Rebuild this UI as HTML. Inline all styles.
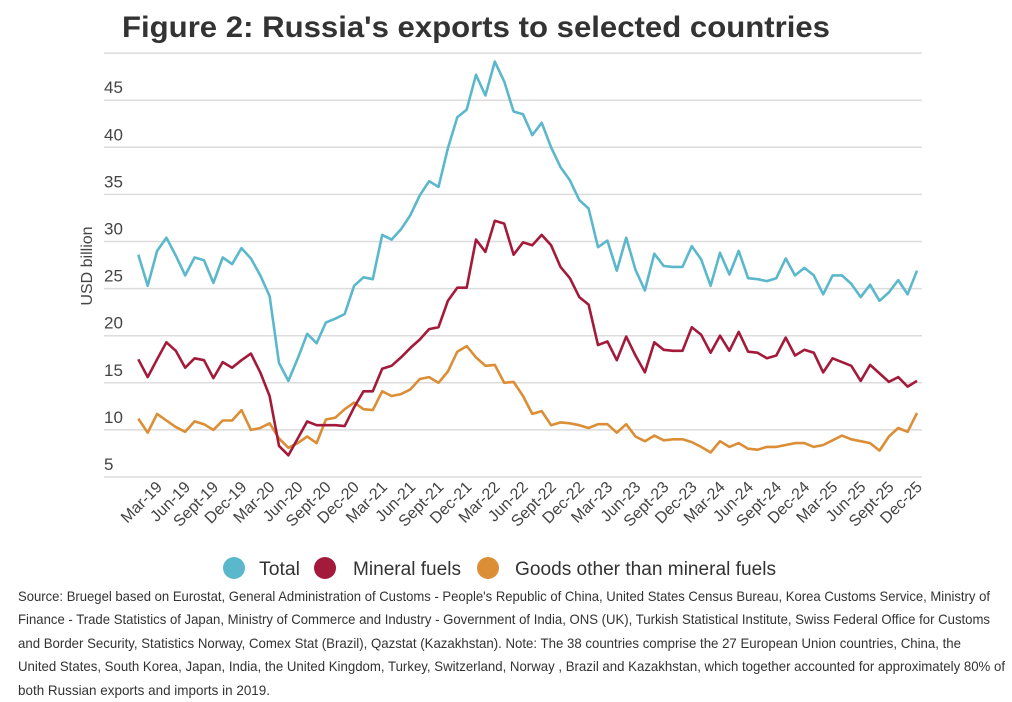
<!DOCTYPE html>
<html><head><meta charset="utf-8"><style>
html,body{margin:0;padding:0;background:#fff;}
svg{display:block;font-family:"Liberation Sans",sans-serif;}
</style></head><body>
<svg id="chart" width="1012" height="702" viewBox="0 0 1012 702" xmlns="http://www.w3.org/2000/svg">
<text x="122" y="37" font-size="30" font-weight="bold" fill="#333" textLength="708" lengthAdjust="spacingAndGlyphs">Figure 2: Russia's exports to selected countries</text>
<g id="grid"></g><g id="yticks"></g><g id="xticks"></g><g id="lines"></g>
<text transform="translate(92,266) rotate(-90)" text-anchor="middle" font-size="16" fill="#444">USD billion</text>
<g>
<g><circle cx="234" cy="568" r="11" fill="#5bb8cc"/><text x="259" y="575" font-size="19" fill="#333" textLength="41" lengthAdjust="spacingAndGlyphs">Total</text></g>
<g><circle cx="325" cy="568" r="11" fill="#a31a3b"/><text x="353" y="575" font-size="19" fill="#333" textLength="108" lengthAdjust="spacingAndGlyphs">Mineral fuels</text></g>
<g><circle cx="488" cy="568" r="11" fill="#db8e35"/><text x="515" y="575" font-size="19" fill="#333" textLength="261" lengthAdjust="spacingAndGlyphs">Goods other than mineral fuels</text></g>
</g>
<g font-size="14" fill="#333">
<text x="18" y="601" textLength="972" lengthAdjust="spacingAndGlyphs">Source: Bruegel based on Eurostat, General Administration of Customs - People's Republic of China, United States Census Bureau, Korea Customs Service, Ministry of</text>
<text x="18" y="624" textLength="972" lengthAdjust="spacingAndGlyphs">Finance - Trade Statistics of Japan, Ministry of Commerce and Industry - Government of India, ONS (UK), Turkish Statistical Institute, Swiss Federal Office for Customs</text>
<text x="18" y="648" textLength="943" lengthAdjust="spacingAndGlyphs">and Border Security, Statistics Norway, Comex Stat (Brazil), Qazstat (Kazakhstan). Note: The 38 countries comprise the 27 European Union countries, China, the</text>
<text x="18" y="671" textLength="987" lengthAdjust="spacingAndGlyphs">United States, South Korea, Japan, India, the United Kingdom, Turkey, Switzerland, Norway , Brazil and Kazakhstan, which together accounted for approximately 80% of</text>
<text x="18" y="695" textLength="252" lengthAdjust="spacingAndGlyphs">both Russian exports and imports in 2019.</text>
</g>
</svg>
<script>
const months = ["Jan","Feb","Mar","Apr","May","Jun","Jul","Aug","Sept","Oct","Nov","Dec"];
const yTicks = [5,10,15,20,25,30,35,40,45];
const total = [28.6,25.3,29.0,30.4,28.5,26.4,28.3,28.0,25.6,28.3,27.6,29.3,28.2,26.4,24.2,17.1,15.2,17.6,20.2,19.2,21.4,21.8,22.3,25.3,26.2,26.0,30.7,30.2,31.3,32.8,34.9,36.4,35.8,39.9,43.2,44.0,47.7,45.5,49.1,47.0,43.8,43.5,41.3,42.6,40.0,37.9,36.5,34.4,33.5,29.4,30.1,26.9,30.4,27.0,24.8,28.7,27.4,27.3,27.3,29.5,28.1,25.3,28.8,26.5,29.0,26.1,26.0,25.8,26.1,28.2,26.4,27.2,26.4,24.4,26.4,26.4,25.5,24.1,25.4,23.7,24.6,25.9,24.4,26.9];
const mineral = [17.5,15.6,17.5,19.3,18.4,16.6,17.6,17.4,15.5,17.2,16.6,17.4,18.1,16.1,13.6,8.3,7.3,9.1,10.9,10.5,10.5,10.5,10.4,12.4,14.1,14.1,16.5,16.8,17.7,18.7,19.6,20.7,20.9,23.7,25.1,25.1,30.2,28.9,32.2,31.9,28.6,29.9,29.6,30.7,29.6,27.3,26.1,24.1,23.3,19.0,19.4,17.4,19.9,17.9,16.1,19.3,18.5,18.4,18.4,20.9,20.1,18.2,20.0,18.4,20.4,18.3,18.2,17.6,17.9,19.8,17.9,18.5,18.2,16.1,17.6,17.2,16.8,15.2,16.9,16.0,15.1,15.6,14.6,15.2];
const goods = [11.2,9.7,11.7,11.0,10.3,9.8,10.9,10.6,10.0,11.0,11.0,12.1,10.0,10.2,10.7,9.1,8.1,8.6,9.3,8.6,11.1,11.3,12.2,12.9,12.2,12.1,14.1,13.6,13.8,14.3,15.4,15.6,15.0,16.2,18.3,18.9,17.7,16.8,16.9,15.0,15.1,13.6,11.7,12.0,10.5,10.8,10.7,10.5,10.2,10.6,10.6,9.7,10.6,9.3,8.8,9.4,8.9,9.0,9.0,8.7,8.2,7.6,8.8,8.2,8.6,8.0,7.9,8.2,8.2,8.4,8.6,8.6,8.2,8.4,8.9,9.4,9.0,8.8,8.6,7.8,9.3,10.2,9.8,11.8];
const NS="http://www.w3.org/2000/svg";
const x = i => 138.3 + i*(917-138.3)/(total.length-1);
const y = v => 477 - (v-5)*9.42;
function mk(tag, parent, attrs){const e=document.createElementNS(NS,tag);for(const k in attrs)e.setAttribute(k,attrs[k]);parent.appendChild(e);return e;}
const grid=document.getElementById('grid'), yt=document.getElementById('yticks'), xt=document.getElementById('xticks'), lg=document.getElementById('lines');
const gridVals = yTicks.concat([50]);
gridVals.forEach(v=>{
  const l=mk('line',grid,{x1:104,x2:922,y1:y(v),y2:y(v),stroke:'#dcdcdc','stroke-width':1.5});
  
  
});
yTicks.forEach(v=>{
  const t=mk('text',yt,{x:104,y:y(v)-7,'font-size':17,fill:'#444'});
  t.textContent=v;
  
  
});
for(let i=2;i<total.length;i+=3){
  const yr=19+Math.floor(i/12);
  const t=mk('text',xt,{transform:`translate(${x(i)+6},${488}) rotate(-45)`,'text-anchor':'end','font-size':16,fill:'#444'});
  t.textContent=months[i%12]+'-'+yr;
  
  
}
[[goods,'#db8e35','line-goods-other'],[mineral,'#a31a3b','line-mineral-fuels'],[total,'#5bb8cc','line-total']].forEach(([d,c,n])=>{
  const p=mk('polyline',lg,{points:d.map((v,i)=>x(i).toFixed(1)+','+y(v).toFixed(1)).join(' '),fill:'none',stroke:c,'stroke-width':2.6,'stroke-linejoin':'round'});
  
  
});
</script>
</body></html>
